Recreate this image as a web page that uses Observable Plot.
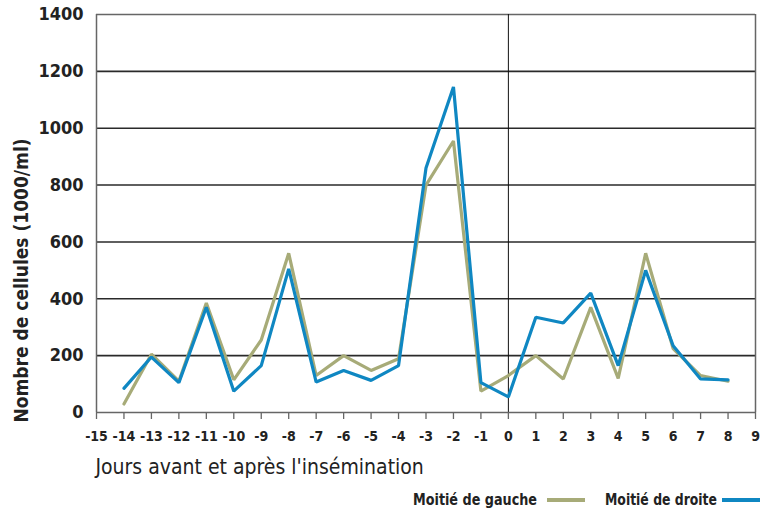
<!DOCTYPE html>
<html>
<head>
<meta charset="utf-8">
<script src="https://cdn.jsdelivr.net/npm/d3@7"></script>
<script src="https://cdn.jsdelivr.net/npm/@observablehq/plot@0.6"></script>
<style>
  body { margin: 0; background: #fff; }
  svg text { font-stretch: condensed; }
  #legend { display: block; }
</style>
</head>
<body>
<div id="chart"></div>
<div id="legend"></div>
<script>
const days = [-14,-13,-12,-11,-10,-9,-8,-7,-6,-5,-4,-3,-2,-1,0,1,2,3,4,5,6,7,8];
const gauche = [30,205,110,385,115,255,560,130,200,148,189,800,955,75,130,200,118,370,120,560,225,130,110];
const droite = [85,195,105,370,75,165,505,107,148,113,165,860,1145,105,55,335,315,420,165,500,235,118,115];
const seriesNames = ["Moitié de gauche", "Moitié de droite"];
const seriesColors = ["#a7ab78", "#0f87c2"];
const xTicks = d3.range(-15, 10);
const yTicks = [0, 200, 400, 600, 800, 1000, 1200, 1400];
const xLabel = "Jours avant et après l'insémination";
const yLabel = "Nombre de cellules (1000/ml)";

const rows = [];
days.forEach((d, i) => {
  rows.push({day: d, value: gauche[i], serie: seriesNames[0]});
  rows.push({day: d, value: droite[i], serie: seriesNames[1]});
});

const font = '"DejaVu Sans Condensed", "DejaVu Sans", sans-serif';

const chart = Plot.plot({
  width: 768,
  height: 480,
  marginLeft: 96,
  marginRight: 13,
  marginTop: 14,
  marginBottom: 68,
  style: {background: "#fff", fontStretch: "condensed"},
  x: {domain: [-15, 9]},
  y: {domain: [0, 1400]},
  color: {domain: seriesNames, range: seriesColors},
  marks: [
    Plot.ruleY(yTicks.filter(v => v > 0 && v < 1400), {stroke: "#2a2a2a", strokeWidth: 1.6}),
    Plot.ruleY([1400], {stroke: "#666", strokeWidth: 1.5}),
    Plot.ruleX([9], {stroke: "#666", strokeWidth: 1.5}),
    Plot.ruleX([-15], {stroke: "#666", strokeWidth: 1.5}),
    Plot.ruleX([0], {stroke: "#111", strokeWidth: 1}),
    Plot.ruleY([0], {stroke: "#666", strokeWidth: 1.5}),
    Plot.axisX({ticks: xTicks, tickFormat: d => String(d), tickSize: 7, tickPadding: 12, stroke: "#666", strokeWidth: 1.3, fontSize: 14, fontFamily: font, fontWeight: "bold", fill: "#222", label: null}),
    Plot.axisY({ticks: yTicks, tickFormat: d => String(d), tickSize: 0, tickPadding: 13, fontSize: 18, fontFamily: font, fontWeight: "bold", fill: "#222", label: null}),
    Plot.line(rows, {x: "day", y: "value", z: "serie", stroke: "serie", strokeWidth: 3.2, strokeLinejoin: "miter"}),
    Plot.text([xLabel], {frameAnchor: "bottom-left", textAnchor: "start", lineAnchor: "middle", dx: -1, dy: 55, fontSize: 21, fontFamily: font, fill: "#222"}),
    Plot.text([yLabel], {frameAnchor: "left", textAnchor: "middle", rotate: -90, lineAnchor: "middle", dx: -75, dy: 67, fontSize: 19, fontFamily: font, fontWeight: "bold", fill: "#222"})
  ]
});
document.getElementById("chart").appendChild(chart);

// Legend below the chart
const legendItems = [
  {name: seriesNames[0], color: seriesColors[0], tx: 413, tw: 124, sx: 547, sw: 38},
  {name: seriesNames[1], color: seriesColors[1], tx: 605, tw: 112, sx: 722, sw: 38}
];
const lsvg = d3.select("#legend").append("svg").attr("width", 768).attr("height", 28).style("display", "block");
legendItems.forEach(it => {
  lsvg.append("text")
    .attr("x", it.tx).attr("y", 20).attr("dy", "0.35em")
    .attr("textLength", it.tw).attr("lengthAdjust", "spacingAndGlyphs")
    .style("font-family", font).style("font-weight", "bold").style("font-size", "15px")
    .style("font-stretch", "condensed").attr("fill", "#222")
    .text(it.name);
  lsvg.append("rect").attr("x", it.sx).attr("y", 18).attr("width", it.sw).attr("height", 4).attr("fill", it.color);
});
</script>
</body>
</html>
